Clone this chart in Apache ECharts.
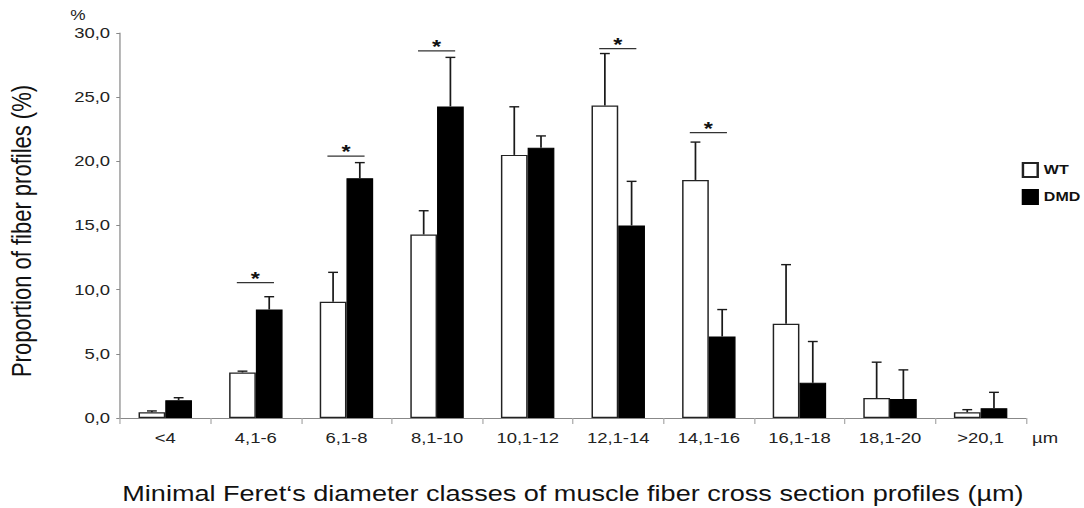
<!DOCTYPE html>
<html>
<head>
<meta charset="utf-8">
<script src="https://cdn.jsdelivr.net/npm/echarts@6/dist/echarts.min.js"></script>
<style>
  html, body { margin: 0; padding: 0; background: #fff; overflow: hidden; }
  /* the figure is laid out narrower and widened horizontally, like the published plot */
  #chart { width: 881px; height: 508px; transform: scaleX(1.2304); transform-origin: 0 0; }
</style>
</head>
<body>
<div id="chart"></div>
<script>
// Diameter classes (µm)
const categories = ['<4', '4,1-6', '6,1-8', '8,1-10', '10,1-12', '12,1-14', '14,1-16', '16,1-18', '18,1-20', '>20,1'];

// Mean proportion of fiber profiles (%) and upper end of the SD whisker
const wtMean = [0.45, 3.55, 9.05, 14.3, 20.5, 24.35, 18.55, 7.35, 1.55, 0.45];
const wtUpper = [0.55, 3.65, 11.35, 16.15, 24.25, 28.4, 21.5, 11.95, 4.35, 0.65];
const dmdMean = [1.38, 8.45, 18.68, 24.28, 21.05, 15.0, 6.35, 2.74, 1.48, 0.76];
const dmdUpper = [1.58, 9.45, 19.9, 28.1, 21.98, 18.44, 8.45, 5.96, 3.75, 2.0];

// Significant differences: category index and height of the bracket line (%)
const sigIndex = [1, 2, 3, 5, 6];
const sigLevel = [10.55, 20.4, 28.6, 28.78, 22.23];

const yTickLabels = ['0,0', '5,0', '10,0', '15,0', '20,0', '25,0', '30,0'];

const FONT = '"Liberation Sans", Arial, Helvetica, sans-serif';
const CAT_GAP = 0.41;
const GRID = { left: 97.5, right: 47.2, top: 33, bottom: 90 };
const CHART_W = 881;

const chart = echarts.init(document.getElementById('chart'), null, { renderer: 'svg' });

function errorBarRenderer(side) {
  return function (params, api) {
    const idx = api.value(0);
    const top = api.coord([idx, api.value(2)]);
    const base = api.coord([idx, api.value(1)]);
    const band = api.size([1, 0])[0];
    const barW = band * (1 - CAT_GAP) / 2;
    const x = top[0] + side * barW / 2;
    const cap = 4;
    const style = { stroke: '#1a1a1a', lineWidth: 1.4, fill: null };
    return {
      type: 'group',
      children: [
        { type: 'line', shape: { x1: x, y1: base[1], x2: x, y2: top[1] }, style: style },
        { type: 'line', shape: { x1: x - cap, y1: top[1], x2: x + cap, y2: top[1] }, style: style }
      ]
    };
  };
}

function sigRenderer(params, api) {
  const idx = api.value(0);
  const p = api.coord([idx, api.value(1)]);
  const band = api.size([1, 0])[0];
  const x1 = p[0] - band * 0.21;
  const x2 = p[0] + band * 0.2;
  return {
    type: 'group',
    children: [
      { type: 'line', shape: { x1: x1, y1: p[1], x2: x2, y2: p[1] }, style: { stroke: '#333', lineWidth: 1.3 } },
      { type: 'text', style: { text: '*', x: (x1 + x2) / 2, y: p[1] - 4, textAlign: 'center', textVerticalAlign: 'middle', font: 'bold 19px ' + FONT, fill: '#111' } }
    ]
  };
}

const option = {
  backgroundColor: '#fff',
  animation: false,
  textStyle: { fontFamily: FONT },
  grid: GRID,
  legend: {
    data: ['WT', 'DMD'],
    orient: 'vertical',
    right: 3,
    top: 162,
    padding: 0,
    icon: 'rect',
    itemWidth: 12,
    itemHeight: 14,
    itemGap: 11,
    align: 'left',
    textStyle: { fontFamily: FONT, fontSize: 13, fontWeight: 'bold', color: '#111' }
  },
  xAxis: {
    type: 'category',
    data: categories,
    axisLine: { lineStyle: { color: '#888', width: 1 } },
    axisTick: { show: true, length: 6, lineStyle: { color: '#aaa' } },
    axisLabel: { fontFamily: FONT, fontSize: 15, color: '#222', margin: 13 },
    name: 'µm',
    nameLocation: 'end',
    nameGap: 5,
    nameTextStyle: { fontFamily: FONT, fontSize: 15, color: '#222', verticalAlign: 'top', padding: [13, 0, 0, 0] }
  },
  yAxis: {
    type: 'value',
    min: 0,
    max: 30,
    interval: 5,
    splitLine: { show: false },
    axisLine: { show: true, lineStyle: { color: '#888', width: 1 } },
    axisTick: { show: true, length: 3, lineStyle: { color: '#888' } },
    axisLabel: {
      fontFamily: FONT, fontSize: 15, color: '#222', margin: 8,
      formatter: function (v) { return yTickLabels[Math.round(v / 5)]; }
    },
    name: '%',
    nameLocation: 'end',
    nameGap: 11,
    nameTextStyle: { fontFamily: FONT, fontSize: 14, color: '#222', align: 'right', padding: [0, 28, 0, 0] }
  },
  graphic: [
    {
      // x-axis title, centred under the plot area
      type: 'text',
      x: GRID.left + (CHART_W - GRID.left - GRID.right) / 2,
      y: 493,
      style: { text: 'Minimal Feret‘s diameter classes of muscle fiber cross section profiles (µm)', font: '22px ' + FONT, fill: '#111', textAlign: 'center', textVerticalAlign: 'middle' }
    },
    {
      type: 'text',
      x: 18,
      y: 231,
      rotation: Math.PI / 2,
      style: { text: 'Proportion of fiber profiles (%)', font: '22px ' + FONT, fill: '#111', textAlign: 'center', textVerticalAlign: 'middle' },
      originX: 0,
      originY: 0
    }
  ],
  series: [
    {
      name: 'WT',
      type: 'bar',
      data: wtMean,
      barGap: '0%',
      barCategoryGap: '41%',
      itemStyle: { color: '#fff', borderColor: '#222', borderWidth: 1.2 },
      z: 2
    },
    {
      name: 'DMD',
      type: 'bar',
      data: dmdMean,
      barGap: '0%',
      barCategoryGap: '41%',
      itemStyle: { color: '#000', borderColor: '#000', borderWidth: 1 },
      z: 2
    },
    {
      type: 'custom',
      renderItem: errorBarRenderer(-1),
      data: categories.map((c, i) => [i, wtMean[i], wtUpper[i]]),
      encode: { x: 0, y: 2 },
      z: 3,
      silent: true
    },
    {
      type: 'custom',
      renderItem: errorBarRenderer(1),
      data: categories.map((c, i) => [i, dmdMean[i], dmdUpper[i]]),
      encode: { x: 0, y: 2 },
      z: 3,
      silent: true
    },
    {
      type: 'custom',
      renderItem: sigRenderer,
      data: sigIndex.map((c, i) => [c, sigLevel[i]]),
      encode: { x: 0, y: 1 },
      z: 3,
      silent: true
    }
  ]
};

chart.setOption(option);
</script>
</body>
</html>
